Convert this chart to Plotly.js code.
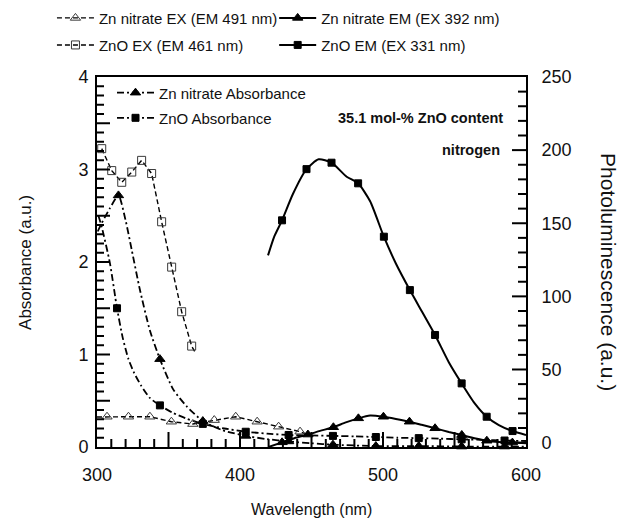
<!DOCTYPE html>
<html><head><meta charset="utf-8">
<script src="https://cdn.plot.ly/plotly-3.0.1.min.js"></script>
<style>html,body{margin:0;padding:0;background:#fff}#chart{width:622px;height:528px}</style>
</head><body><div id="chart"></div>
<script>
// ---- data ----
// Photoluminescence axis (right)
const znoExX = [303.3, 310.3, 317.3, 324.3, 331.2, 338.2, 345.2, 352.2, 359.2, 366.2, 368.5];
const znoExY = [201, 186, 178, 185, 193, 184, 151, 120, 89.5, 66, 62];
const znoExMarkX = [303.3, 310.3, 317.3, 324.3, 331.2, 338.2, 345.2, 352.2, 359.2, 366.2];
const znoExMarkY = [201, 186, 178, 185, 193, 184, 151, 120, 89.5, 66];

const znExX = [300, 307, 322, 337, 352, 367, 382, 397, 412, 427, 442, 448];
const znExY = [17.5, 17.7, 17.7, 17.7, 14.3, 12.7, 15.4, 17.7, 14.3, 10.9, 7.5, 5];
const znExMarkX = [307, 322, 337, 352, 367, 382, 397, 412, 427, 442];
const znExMarkY = [17.7, 17.7, 17.7, 14.3, 12.7, 15.4, 17.7, 14.3, 10.9, 7.5];

const znEmX = [420, 429.4, 438, 447.5, 456, 465.3, 474, 482.8, 491, 500.3, 509, 518.5, 527, 536.4, 546, 555.1, 564, 572.6, 581, 590.5, 600];
const znEmY = [-3, 0.2, 3, 5.5, 8, 10.5, 13.8, 16.6, 18.5, 17.7, 16.2, 14.3, 12.2, 9.8, 7.3, 5.2, 3, 1.3, 0.4, 0, -0.5];
const znEmMarkX = [429.4, 447.5, 465.3, 482.8, 500.3, 518.5, 536.4, 555.1, 572.6, 590.5];
const znEmMarkY = [0.2, 5.5, 10.5, 16.6, 17.7, 14.3, 9.8, 5.2, 1.3, 0];

const znoEmX = [419.6, 424, 429.4, 437, 446.5, 455, 464, 474.6, 482.6, 491, 500.6, 509, 518.8, 527, 536.4, 546, 555, 564, 572.5, 581, 590.6, 600];
const znoEmY = [128, 141, 152, 170, 187, 193.7, 191.4, 181.8, 177.3, 165, 140.8, 122.5, 104.3, 90, 73.6, 55, 40.5, 27, 17.7, 12, 7.9, 5.2];
const znoEmMarkX = [429.4, 446.5, 464, 482.6, 500.6, 518.8, 536.4, 555, 572.5, 590.6];
const znoEmMarkY = [152, 187, 191.4, 177.3, 140.8, 104.3, 73.6, 40.5, 17.7, 7.9];

// Absorbance axis (left)
const znAbsX = [300.5, 303.3, 309, 315, 320, 324.3, 330, 337, 344, 353.4, 362.7, 374, 388, 404, 419, 434, 450, 465, 495, 525, 555, 585, 600];
const znAbsY = [2.33, 2.42, 2.58, 2.72, 2.45, 2.13, 1.70, 1.26, 0.95, 0.62, 0.44, 0.28, 0.18, 0.12, 0.085, 0.06, 0.04, 0.025, 0.01, 0.01, 0.005, 0.005, 0.005];
const znAbsMarkX = [315, 344, 374, 404, 434, 465, 495, 525, 555, 585];
const znAbsMarkY = [2.72, 0.95, 0.28, 0.12, 0.06, 0.025, 0.01, 0.01, 0.005, 0.005];

const znoAbsX = [301, 303.3, 309, 314, 318, 322, 326, 331, 337, 344, 353, 362, 374, 389, 404, 419, 434, 450, 465, 480, 495, 510, 525, 540, 555, 570, 585, 600];
const znoAbsY = [2.5, 2.38, 1.99, 1.50, 1.18, 0.95, 0.80, 0.66, 0.53, 0.45, 0.37, 0.31, 0.25, 0.20, 0.165, 0.145, 0.13, 0.125, 0.12, 0.115, 0.108, 0.10, 0.096, 0.09, 0.083, 0.077, 0.07, 0.065];
const znoAbsMarkX = [314, 344, 374, 404, 434, 465, 495, 525, 555, 585];
const znoAbsMarkY = [1.50, 0.45, 0.25, 0.165, 0.13, 0.12, 0.108, 0.096, 0.083, 0.07];

const legendNames = ['Zn nitrate EX (EM 491 nm)', 'Zn nitrate EM (EX 392 nm)', 'ZnO EX (EM 461 nm)', 'ZnO EM (EX 331 nm)', 'Zn nitrate Absorbance', 'ZnO Absorbance'];
const xTickVals = [300, 400, 500, 600];
const yTickVals = [0, 1, 2, 3, 4];
const y2TickVals = [0, 50, 100, 150, 200, 250];

// ---- styles ----
const K = '#000';
const TXT = '#111';
const FONT = 'Liberation Sans, Arial, sans-serif';
const DASH = '5px,3px';
const DASHDOT = '7px,3px,2px,3px';
const PW = 429, PH = 370;   // plot area size in px (from margins below)

const series = [
  {cx: znExX, cy: znExY, mx: znExMarkX, my: znExMarkY, axis: 'y2', dash: DASH, w: 1.4, sym: 'triangle-up-open', ms: 9, shape: 'linear', legend: 'legend'},
  {cx: znEmX, cy: znEmY, mx: znEmMarkX, my: znEmMarkY, axis: 'y2', dash: 'solid', w: 2, sym: 'triangle-up', ms: 9, shape: 'spline', legend: 'legend2'},
  {cx: znoExX, cy: znoExY, mx: znoExMarkX, my: znoExMarkY, axis: 'y2', dash: DASH, w: 1.4, sym: 'square-open', ms: 8, shape: 'linear', legend: 'legend3'},
  {cx: znoEmX, cy: znoEmY, mx: znoEmMarkX, my: znoEmMarkY, axis: 'y2', dash: 'solid', w: 2, sym: 'square', ms: 7, shape: 'spline', legend: 'legend4'},
  {cx: znAbsX, cy: znAbsY, mx: znAbsMarkX, my: znAbsMarkY, axis: 'y', dash: DASHDOT, w: 1.8, sym: 'triangle-up', ms: 9, shape: 'spline', legend: 'legend5'},
  {cx: znoAbsX, cy: znoAbsY, mx: znoAbsMarkX, my: znoAbsMarkY, axis: 'y', dash: DASHDOT, w: 1.8, sym: 'square', ms: 7, shape: 'spline', legend: 'legend6'}
];

const traces = [];
series.forEach((s, i) => {
  const open = s.sym.indexOf('open') >= 0;
  const marker = open ? {symbol: s.sym, size: s.ms, color: '#3a3a3a', line: {color: '#3a3a3a', width: 1}}
                      : {symbol: s.sym, size: s.ms, color: K, line: {color: K, width: 1}};
  traces.push({x: s.cx, y: s.cy, yaxis: s.axis, mode: 'lines', showlegend: false, hoverinfo: 'skip',
    line: {color: K, width: s.w, dash: s.dash, shape: s.shape, smoothing: 0.6}});
  traces.push({x: s.mx, y: s.my, yaxis: s.axis, mode: 'markers', showlegend: false, cliponaxis: false, marker: marker});
  traces.push({x: [null], y: [null], yaxis: s.axis, mode: 'lines+markers', name: legendNames[i], legend: s.legend,
    line: {color: K, width: s.w, dash: s.dash}, marker: marker});
});

// inward-pointing axis ticks, placed on the axes' own scales
const shapes = [];
function tick(xref, yref, x0, x1, y0, y1, w) {
  shapes.push({type: 'line', xref: xref, yref: yref, x0: x0, x1: x1, y0: y0, y1: y1, layer: 'above', line: {color: K, width: w}});
}
for (let v = 310; v < 600; v += 10) {           // bottom: minor 10 nm, major 50 nm
  const major = v % 50 === 0;
  tick('x', 'paper', v, v, 0, (major ? 15 : 8) / PH, 2);
}
for (let i = 1; i < 40; i++) {                  // left: minor 0.1, major 0.5
  const major = i % 5 === 0;
  tick('paper', 'y', 0, (major ? 13 : 7) / PW, i / 10, i / 10, 2);
}
for (let v = 0; v < 250; v += 10) {             // right: minor 10, major 50
  const major = v % 50 === 0;
  tick('paper', 'y2', 1, 1 - (major ? 14 : 8) / PW, v, v, 2);
}

function leg(x, y) {
  return {x: x, y: y, xanchor: 'left', yanchor: 'middle', bgcolor: 'rgba(0,0,0,0)', borderwidth: 0,
    font: {family: FONT, size: 15, color: TXT}, itemwidth: 37, itemclick: false, itemdoubleclick: false};
}

const labelAxis = {showgrid: false, zeroline: false, showline: true, linecolor: K, linewidth: 2,
  ticks: '', tickmode: 'array', tickfont: {family: FONT, size: 18, color: TXT}};

const layout = {
  width: 622, height: 528,
  margin: {l: 97, r: 96, t: 77, b: 81, autoexpand: false},
  paper_bgcolor: '#fff', plot_bgcolor: '#fff',
  font: {family: FONT, color: TXT},
  xaxis: Object.assign({}, labelAxis, {range: [300, 600], tickvals: xTickVals, mirror: true, ticklabelstandoff: 10}),
  yaxis: Object.assign({}, labelAxis, {range: [0, 4], tickvals: yTickVals, ticklabelstandoff: 3}),
  yaxis2: Object.assign({}, labelAxis, {overlaying: 'y', side: 'right', range: [-3, 250], tickvals: y2TickVals, ticklabelstandoff: 10}),
  shapes: shapes,
  legend: leg(-0.105, 1.159),
  legend2: leg(0.413, 1.159),
  legend3: leg(-0.105, 1.086),
  legend4: leg(0.413, 1.086),
  legend5: leg(0.035, 0.957),
  legend6: leg(0.035, 0.889),
  annotations: [
    {text: '<b>35.1 mol-% ZnO content</b>', xref: 'paper', yref: 'paper', x: 0.951, y: 0.889, xanchor: 'right', yanchor: 'middle', showarrow: false, font: {family: FONT, size: 14.5, color: TXT}},
    {text: '<b>nitrogen</b>', xref: 'paper', yref: 'paper', x: 0.944, y: 0.803, xanchor: 'right', yanchor: 'middle', showarrow: false, font: {family: FONT, size: 14.5, color: TXT}},
    {text: 'Absorbance (a.u.)', xref: 'paper', yref: 'paper', x: -0.168, y: 0.5, xanchor: 'center', yanchor: 'middle', textangle: -90, showarrow: false, font: {family: FONT, size: 17, color: TXT}},
    {text: 'Photoluminescence (a.u.)', xref: 'paper', yref: 'paper', x: 1.191, y: 0.473, xanchor: 'center', yanchor: 'middle', textangle: 90, showarrow: false, font: {family: FONT, size: 21, color: TXT}},
    {text: 'Wavelength (nm)', xref: 'paper', yref: 'paper', x: 0.5, y: -0.170, xanchor: 'center', yanchor: 'middle', showarrow: false, font: {family: FONT, size: 16, color: TXT}}
  ]
};

Plotly.newPlot('chart', traces, layout, {displayModeBar: false, staticPlot: true});
</script></body></html>
